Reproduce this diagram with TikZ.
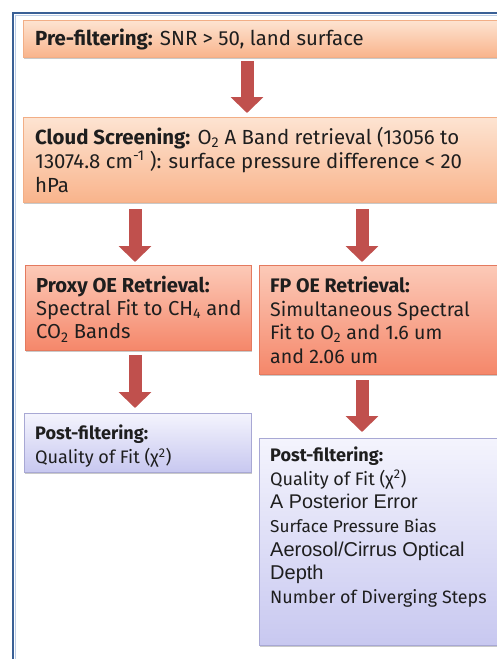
\documentclass[tikz,border=0pt]{standalone}
\usepackage{fontspec}
\setmainfont{Fira Sans}
\newfontfamily\arialfont{Liberation Sans}
\usetikzlibrary{arrows.meta,shadows}
\definecolor{frameblue}{HTML}{3A6096}
\definecolor{frameinner}{HTML}{BCCDE6}
\definecolor{orTop}{HTML}{FDE4D2}
\definecolor{orBot}{HTML}{F9B48C}
\definecolor{orLine}{HTML}{F2AE86}
\definecolor{rdTop}{HTML}{FCCAB8}
\definecolor{rdBot}{HTML}{F5876A}
\definecolor{rdLine}{HTML}{E47A5F}
\definecolor{lvTop}{HTML}{F4F4FD}
\definecolor{lvBot}{HTML}{C8C8F0}
\definecolor{lvLine}{HTML}{A8A8D4}
\definecolor{arrowred}{HTML}{C0504D}
\definecolor{txt}{HTML}{1E1E1E}
\tikzset{
  box/.style={rectangle, anchor=north west, inner sep=0pt, outer sep=0pt, line width=0.8pt,
    drop shadow={shadow xshift=1.2pt, shadow yshift=-2pt, opacity=0.35, fill=black!60}},
  orbox/.style={box, draw=orLine, top color=orTop, bottom color=orBot},
  rdbox/.style={box, draw=rdLine, top color=rdTop, bottom color=rdBot},
  lvbox/.style={box, draw=lvLine, top color=lvTop, bottom color=lvBot},
  btext/.style={anchor=north west, inner sep=0pt, align=left, text=txt,
    font=\fontsize{20.4}{24}\selectfont},
  stext/.style={anchor=north west, inner sep=0pt, align=left, text=txt,
    font=\fontsize{18.1}{23.7}\selectfont},
  blockarrow/.style={draw=arrowred, line width=13pt,
    -{Triangle[width=32pt,length=16pt]}, arrowred, shorten <=4pt, shorten >=4pt},
}
\begin{document}
\begin{tikzpicture}[x=1pt,y=-1pt]
\clip (0,0) rectangle (497,659);
\fill[white] (0,0) rectangle (497,659);
% outer frame
\draw[frameinner, line width=1pt] (15.2,15.2) rectangle (600,800);
\draw[frameblue, line width=2.4pt] (12.8,12.8) rectangle (600,800);
% boxes
\node[orbox, minimum width=490pt, minimum height=37pt] (pre) at (23,20) {};
\node[orbox, minimum width=490pt, minimum height=85pt] (cloud) at (23,117) {};
\node[rdbox, minimum width=226pt, minimum height=85pt] (proxy) at (25,265) {};
\node[rdbox, minimum width=250pt, minimum height=109pt] (fp) at (259,265) {};
\node[lvbox, minimum width=227pt, minimum height=59pt] (postl) at (24,413) {};
\node[lvbox, minimum width=250pt, minimum height=207pt] (postr) at (259,438) {};
% texts
\node[btext] (tpre) at (35,29) {\textbf{Pre-filtering:} SNR > 50, land surface};
\node[btext] (tcloud) at (35,127) {\textbf{Cloud Screening:} O\textsubscript{2} A Band retrieval (13056 to\\
13074.8 cm\textsuperscript{-1} ): surface pressure difference < 20\\
hPa};
\node[btext, font=\fontsize{20.2}{23.2}\selectfont] (tproxy) at (36,276) {\textbf{Proxy OE Retrieval:}\\
Spectral Fit to CH\textsubscript{4} and\\
CO\textsubscript{2} Bands};
\node[btext, font=\fontsize{19.6}{23.7}\selectfont] (tfp) at (270,276.3) {\textbf{FP OE Retrieval:}\\
Simultaneous Spectral\\
Fit to O\textsubscript{2} and 1.6 um\\
and 2.06 um};
\node[stext, font=\fontsize{18.1}{24}\selectfont] (tpostl) at (35,424.6) {\textbf{Post-filtering:}\\
Quality of Fit (χ\textsuperscript{2})};
\node[stext] (tpostr) at (270,446.6) {\textbf{Post-filtering:}\\
Quality of Fit (χ\textsuperscript{2})\\
{\arialfont\fontsize{19.8}{23.7}\selectfont A Posterior Error}\\
{\fontsize{17.2}{23.7}\selectfont Surface Pressure Bias}\\
{\arialfont\fontsize{20}{23.7}\selectfont Aerosol/Cirrus Optical}\\
{\arialfont\fontsize{20}{23.7}\selectfont Depth}\\
{\fontsize{17.9}{23.7}\selectfont Number of Diverging Steps}};
% arrow columns
\coordinate (c1) at (247,0);
\coordinate (c2) at (135,0);
\coordinate (c3) at (362,0);
\draw[blockarrow] (pre.south -| c1) -- (cloud.north -| c1);
\draw[blockarrow, shorten <=7pt, shorten >=3pt] (cloud.south -| c2) -- (proxy.north -| c2);
\draw[blockarrow, shorten <=7pt, shorten >=3pt] (cloud.south -| c3) -- (fp.north -| c3);
\draw[blockarrow, shorten <=5pt, shorten >=5pt] (proxy.south -| c2) -- (postl.north -| c2);
\draw[blockarrow, shorten <=6pt, shorten >=6pt] (fp.south -| c3) -- (postr.north -| c3);
\end{tikzpicture}
\end{document}
